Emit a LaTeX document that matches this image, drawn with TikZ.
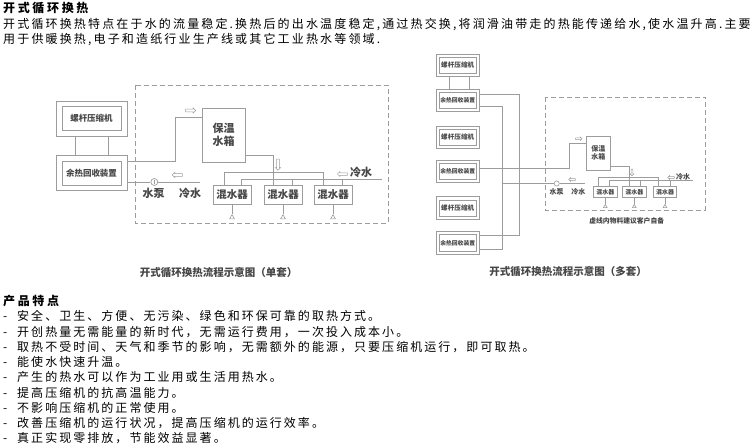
\documentclass[tikz,border=0pt]{standalone}
\usepackage{fontspec}
\setmainfont{Noto Sans CJK SC}
\newfontfamily\parafont[LetterSpace=18]{Noto Sans CJK SC}
\newfontfamily\listfont[LetterSpace=17]{Noto Sans CJK SC}
\newfontfamily\headfont[LetterSpace=22]{Noto Sans CJK SC}
\usetikzlibrary{shapes.arrows,shapes.geometric}
\definecolor{pipegray}{HTML}{9C9C9C}
\definecolor{ink}{HTML}{474747}
\newcommand\itemdash{\makebox[14pt][l]{-}}

\begin{document}
\begin{tikzpicture}[x=1pt,y=-1pt,
    pipe/.style={draw=pipegray,line width=0.7pt},
    zone/.style={draw=pipegray,line width=0.7pt,dash pattern=on 5pt off 3pt},
    unit/.style={draw=pipegray,line width=0.7pt,minimum width=71pt,minimum height=35pt,inner sep=0pt,
      text=ink,font=\fontsize{8.5}{9}\selectfont\bfseries,
      path picture={\draw[pipegray,line width=0.7pt]
        ([shift={(6pt,-5.5pt)}]path picture bounding box.north west) rectangle
        ([shift={(-6pt,5.5pt)}]path picture bounding box.south east);}},
    unitS/.style={draw=pipegray,line width=0.6pt,minimum width=43pt,minimum height=22.7pt,inner sep=0pt,
      text=ink,font=\fontsize{5.8}{7}\selectfont\bfseries,
      path picture={\draw[pipegray,line width=0.6pt]
        ([shift={(3.2pt,-3.2pt)}]path picture bounding box.north west) rectangle
        ([shift={(-3.2pt,3.2pt)}]path picture bounding box.south east);}},
    tank/.style={draw=pipegray,line width=0.7pt,inner sep=0pt,text=ink,align=center},
    mixer/.style={draw=pipegray,line width=0.7pt,inner sep=0pt,text=ink,minimum width=38pt,
      minimum height=19pt,font=\fontsize{10.5}{11}\selectfont\bfseries},
    mixerS/.style={mixer,line width=0.6pt,minimum width=23.5pt,minimum height=10.6pt,font=\fontsize{6}{7}\selectfont\bfseries},
    drain/.style={regular polygon,regular polygon sides=3,draw=pipegray,line width=0.6pt,inner sep=0pt,minimum size=5.5pt},
    pump/.style={circle,draw=pipegray,line width=0.7pt,inner sep=0pt,minimum size=7pt},
    flow/.style={single arrow,draw=pipegray,line width=0.5pt,inner sep=1.2pt,single arrow head extend=1.2pt,minimum height=10pt},
    flowS/.style={flow,inner sep=0.7pt,single arrow head extend=0.8pt,minimum height=6.5pt},
    lbl/.style={text=ink,inner sep=0pt,font=\fontsize{11}{12}\selectfont\bfseries},
    lblS/.style={text=ink,inner sep=0pt,font=\fontsize{7}{8}\selectfont\bfseries},
    caption/.style={text=ink,inner sep=0pt,font=\fontsize{10.5}{11}\selectfont\bfseries}]
\useasboundingbox (0,0) rectangle (753,447);

% text above
\node[anchor=west,inner sep=0pt,font=\headfont\bfseries\fontsize{12}{15}\selectfont] (head) at (3,8.5) {开式循环换热};
\node[anchor=north west,inner sep=0pt,align=left,font=\parafont\fontsize{12}{15}\selectfont] (intro) at (3,18.5)
  {开式循环换热特点在于水的流量稳定.换热后的出水温度稳定,通过热交换,将润滑油带走的热能传递给水,使水温升高.主要\\
   用于供暖换热,电子和造纸行业生产线或其它工业热水等领域.};

% single set
\draw[zone] (135,85) rectangle (388,223);
\node[unit] (cmpL) at (91.5,118.5) {螺杆压缩机};
\node[unit] (recL) at (91.5,173) {余热回收装置};
\draw[pipe] ([xshift=-16pt]cmpL.south) -- ([xshift=-16pt]recL.north);
\draw[pipe] ([xshift=17pt]cmpL.south) -- ([xshift=17pt]recL.north);
\node[tank,minimum width=43pt,minimum height=54pt,font=\fontsize{11}{13}\selectfont\bfseries] (tankL) at (223.5,135) {保温\\水箱};
\coordinate (riseL) at (175,117.7);
\draw[pipe] ([yshift=11.3pt]recL.east) -| (riseL) -- (riseL -| tankL.west);
\node[flow] (inL) at (190,110.5) {};
\node[pump] (pumpL) at (154.3,182) {};
\coordinate (feedL) at (200,182);
\draw[pipe] ([yshift=-9pt]recL.east) -- (pumpL) -- (feedL);
\draw[pipe] ([yshift=-1.8pt]pumpL.center) -- ([yshift=1.8pt]pumpL.center);
\node[flow,shape border rotate=180] (backL) at (178,175) {};
\node[lbl] (pumpLtxt) at (153.5,193.5) {水泵};
\node[lbl] (feedLtxt) at (190,193.5) {冷水};
\node[mixer] (mixL1) at (232,194.5) {混水器};
\node[mixer] (mixL2) at (283,194.5) {混水器};
\node[mixer] (mixL3) at (333,194.5) {混水器};
\coordinate (hotL1) at (224.3,172);
\coordinate (hotL2) at (273.3,172);
\coordinate (hotL3) at (323.3,172);
\coordinate (coldL1) at (241.7,179.3);
\coordinate (coldL2) at (292,179.3);
\coordinate (coldL3) at (342,179.3);
\coordinate (coldL4) at (381.7,179.3);
\draw[pipe] ([yshift=-20pt]tankL.east) -| (hotL2) -- (hotL2 |- mixL2.north);
\draw[pipe] (hotL1 |- mixL1.north) -- (hotL1) -- (hotL3) -- (hotL3 |- mixL3.north);
\draw[pipe] (coldL1 |- mixL1.north) -- (coldL1) -- (coldL4);
\draw[pipe] (coldL2) -- (coldL2 |- mixL2.north);
\draw[pipe] (coldL3) -- (coldL3 |- mixL3.north);
\node[flow,minimum height=11pt,shape border rotate=270] (downL) at (278,164) {};
\node[flow,inner sep=1pt,shape border rotate=180] (coldArrL) at (343,174) {};
\node[lbl] (coldLtxt) at (361,172) {冷水};
\node[drain] (outL1) at (232,217.5) {};
\node[drain] (outL2) at (283,217.5) {};
\node[drain] (outL3) at (333,217.5) {};
\draw[pipe] (mixL1) -- (outL1);
\draw[pipe] (mixL2) -- (outL2);
\draw[pipe] (mixL3) -- (outL3);
\node[caption] (capL) at (218.5,272.5) {开式循环换热流程示意图（单套）};

% several sets
\draw[zone] (545,97.3) rectangle (705.7,210);
\node[unitS,font=\fontsize{6.6}{7}\selectfont\bfseries] (cmpR1) at (457.7,65.3) {螺杆压缩机};
\node[unitS] (recR1) at (457.7,100.3) {余热回收装置};
\node[unitS,font=\fontsize{6.6}{7}\selectfont\bfseries] (cmpR2) at (457.7,137.3) {螺杆压缩机};
\node[unitS] (recR2) at (457.7,171.3) {余热回收装置};
\node[unitS,font=\fontsize{6.6}{7}\selectfont\bfseries] (cmpR3) at (457.7,208) {螺杆压缩机};
\node[unitS] (recR3) at (457.7,242.8) {余热回收装置};
\draw[pipe,line width=0.6pt] ([xshift=-8.7pt]cmpR1.south) -- ([xshift=-8.7pt]recR1.north);
\draw[pipe,line width=0.6pt] ([xshift=11.3pt]cmpR1.south) -- ([xshift=11.3pt]recR1.north);
\coordinate (hotBusT) at (519.3,94);
\coordinate (hotBusB) at (519.3,235);
\coordinate (coldBusT) at (502.3,106.5);
\coordinate (coldBusB) at (502.3,249.3);
\draw[pipe,line width=0.6pt] (recR1.east |- hotBusT) -- (hotBusT) -- (hotBusB) -- (recR3.east |- hotBusB);
\draw[pipe,line width=0.6pt] (recR1.east |- coldBusT) -- (coldBusT) -- (coldBusB) -- (recR3.east |- coldBusB);
\node[tank,line width=0.6pt,minimum width=24.7pt,minimum height=34.7pt,font=\fontsize{7}{8}\selectfont\bfseries] (tankR) at (598.3,153.3) {保温\\水箱};
\coordinate (riseR) at (569.3,168);
\coordinate (topR) at (569.3,143.3);
\draw[pipe,line width=0.6pt] (recR2.east |- riseR) -- (riseR) -- (topR) -- (topR -| tankR.west);
\node[flowS] (inR) at (578.3,138.7) {};
\node[pump,minimum size=5.2pt,line width=0.6pt] (pumpR) at (556.7,183.5) {};
\coordinate (pumpR0) at (502.3,183.5);
\coordinate (feedR) at (585,183.5);
\draw[pipe,line width=0.6pt] (pumpR0) -- (pumpR) -- (feedR);
\node[flowS,shape border rotate=180] (backR) at (572.5,179.5) {};
\node[lblS] (pumpRtxt) at (556.7,191.7) {水泵};
\node[lblS] (feedRtxt) at (578.3,191.7) {冷水};
\node[mixerS] (mixR1) at (605.3,192) {混水器};
\node[mixerS] (mixR2) at (634.3,192) {混水器};
\node[mixerS] (mixR3) at (665,192) {混水器};
\coordinate (hotR1) at (598.3,177.3);
\coordinate (hotR2) at (629.3,177.3);
\coordinate (hotR3) at (658.3,177.3);
\coordinate (coldR1) at (609.3,180.7);
\coordinate (coldR2) at (640,180.7);
\coordinate (coldR3) at (670,180.7);
\coordinate (coldR4) at (693.3,180.7);
\draw[pipe,line width=0.6pt] ([yshift=-12.7pt]tankR.east) -| (hotR2) -- (hotR2 |- mixR2.north);
\draw[pipe,line width=0.6pt] (hotR1 |- mixR1.north) -- (hotR1) -- (hotR3) -- (hotR3 |- mixR3.north);
\draw[pipe,line width=0.6pt] (coldR1 |- mixR1.north) -- (coldR1) -- (coldR4);
\draw[pipe,line width=0.6pt] (coldR2) -- (coldR2 |- mixR2.north);
\draw[pipe,line width=0.6pt] (coldR3) -- (coldR3 |- mixR3.north);
\node[flowS,shape border rotate=270] (downR) at (632,172) {};
\node[flowS,shape border rotate=180] (coldArrR) at (671.5,177.5) {};
\node[lblS] (coldRtxt) at (683,177) {冷水};
\node[drain,minimum size=4.2pt] (outR1) at (605.3,206.5) {};
\node[drain,minimum size=4.2pt] (outR2) at (634.3,206.5) {};
\node[drain,minimum size=4.2pt] (outR3) at (665,206.5) {};
\draw[pipe,line width=0.6pt] (mixR1) -- (outR1);
\draw[pipe,line width=0.6pt] (mixR2) -- (outR2);
\draw[pipe,line width=0.6pt] (mixR3) -- (outR3);
\node[lblS,font=\fontsize{6.8}{8}\selectfont\bfseries] (noteR) at (626.7,220.7) {虚线内物料建议客户自备};
\node[caption] (capR) at (568,272) {开式循环换热流程示意图（多套）};

% features
\node[anchor=west,inner sep=0pt,font=\headfont\bfseries\fontsize{12}{15}\selectfont] (feathead) at (3,301) {产品特点};
\node[anchor=north west,inner sep=0pt,align=left,font=\listfont\fontsize{12}{15.25}\selectfont] (feats) at (3,310.5)
  {\itemdash 安全、卫生、方便、无污染、绿色和环保可靠的取热方式。\\
   \itemdash 开创热量无需能量的新时代，无需运行费用，一次投入成本小。\\
   \itemdash 取热不受时间、天气和季节的影响，无需额外的能源，只要压缩机运行，即可取热。\\
   \itemdash 能使水快速升温。\\
   \itemdash 产生的热水可以作为工业用或生活用热水。\\
   \itemdash 提高压缩机的抗高温能力。\\
   \itemdash 不影响压缩机的正常使用。\\
   \itemdash 改善压缩机的运行状况，提高压缩机的运行效率。\\
   \itemdash 真正实现零排放，节能效益显著。};
\end{tikzpicture}
\end{document}
